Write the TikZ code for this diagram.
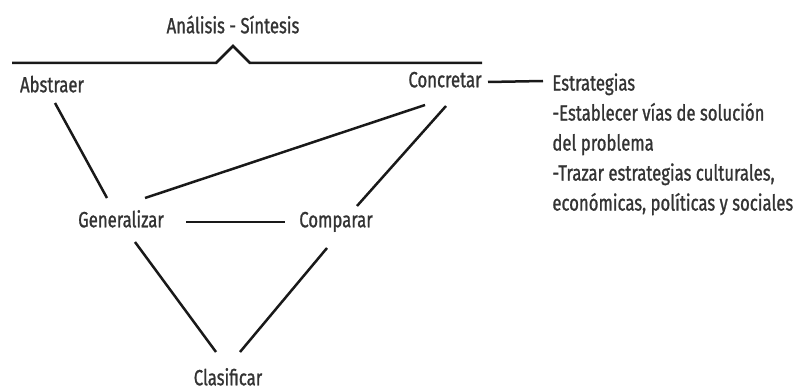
\documentclass[tikz,border=0pt]{standalone}
\usepackage{fontspec}
\setmainfont{Fira Sans}[FakeStretch=0.76, FakeBold=1]
\usepackage{tikz}
\usetikzlibrary{calc,positioning}
\tikzstyle{link} = [line width=1.25pt, color=black!90]
\tikzstyle{term} = [inner sep=0pt, anchor=mid, text=black!80, font=\fontsize{11}{15}\selectfont]

\begin{document}
\begin{tikzpicture}[x=0.5pt, y=-0.5pt]
\useasboundingbox (0,0) rectangle (797,390);

% Top bar
\node[term] (sint) at (233, 28) {Análisis - Síntesis};
\draw[link] (12,63) -- (216,63) -- ($(sint.mid)+(0,18)$) -- (250,63) -- (482,63);

% Operations
\node[term] (abs) at (52, 87) {Abstraer};
\node[term] (con) at (445, 82) {Concretar};
\node[term] (gen) at (121, 222) {Generalizar};
\node[term] (comp) at (336, 222) {Comparar};
\node[term] (clas) at (228, 380) {Clasificar};

% Strategies
\node[term, anchor=north west, align=left] (estr) at (552, 73) {Estrategias\\-Establecer vías de solución\\del problema\\-Trazar estrategias culturales,\\económicas, políticas y sociales};

% Links
\draw[link] ($(abs.mid)+(3,16)$) -- ($(gen.mid)+(-14,-24)$);
\draw[link] ($(con.mid)+(-20,23)$) -- ($(gen.mid)+(24,-24)$);
\draw[link] ($(con.mid)+(1,24)$) -- ($(comp.mid)+(21,-16)$);
\draw[link] ($(gen.mid)+(65,0)$) -- ($(comp.mid)+(-51,0)$);
\draw[link] ($(gen.mid)+(14,20)$) -- ($(clas.mid)+(-12,-28)$);
\draw[link] ($(comp.mid)+(-9,26)$) -- ($(clas.mid)+(12,-28)$);
\draw[link] ($(con.mid)+(43,0)$) -- ($(estr.north west)+(-9,8)$);
\end{tikzpicture}
\end{document}
